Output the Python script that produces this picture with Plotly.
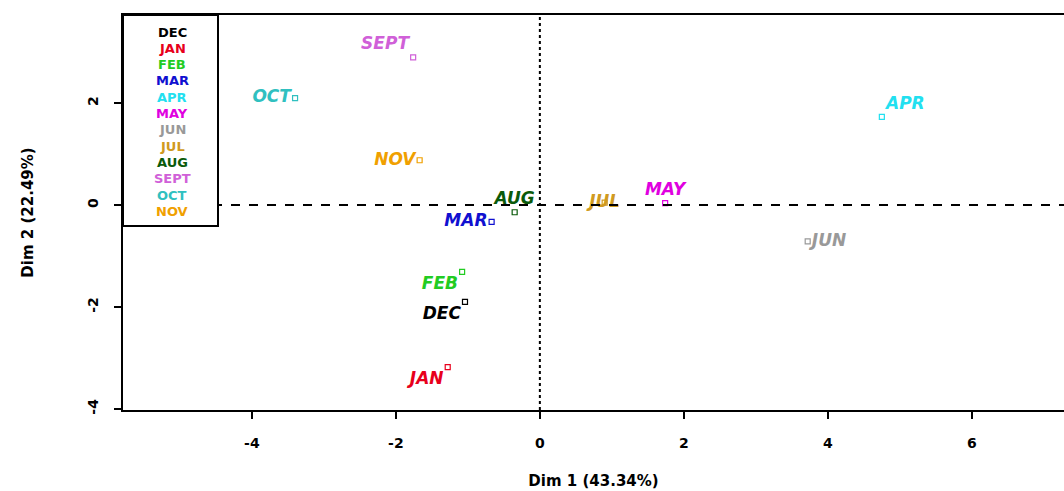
import plotly.graph_objects as go

months = ["DEC", "JAN", "FEB", "MAR", "APR", "MAY", "JUN", "JUL", "AUG", "SEPT", "OCT", "NOV"]
dim1 = [-1.04, -1.28, -1.08, -0.67, 4.75, 1.74, 3.72, 0.90, -0.35, -1.76, -3.40, -1.67]
dim2 = [-1.90, -3.18, -1.31, -0.33, 1.73, 0.04, -0.71, 0.05, -0.14, 2.90, 2.10, 0.88]
colors = ["#000000", "#E8001C", "#22CC22", "#1010D0", "#22E0F0", "#E000E0",
          "#999999", "#D09A20", "#0A5A0A", "#D060D8", "#30C0C0", "#F0A000"]
label_pos = ["bottom left", "bottom left", "bottom left", "middle left", "top right", "top center",
             "middle right", "middle center", "top center", "top left", "middle left", "middle left"]
xticks = [-4, -2, 0, 2, 4, 6]
yticks = [-4, -2, 0, 2]
x_title = "Dim 1 (43.34%)"
y_title = "Dim 2 (22.49%)"

FONT = "DejaVu Sans, Liberation Sans, Arial, sans-serif"

fig = go.Figure()
fig.add_trace(go.Scatter(
    x=dim1, y=dim2, mode="markers+text", text=months, textposition=label_pos,
    marker=dict(symbol="square-open", size=5, color=colors, line=dict(width=1.2, color=colors)),
    textfont=dict(family=FONT, size=17, color=colors, style="italic", weight="bold"),
    hoverinfo="skip", showlegend=False, cliponaxis=False,
))

# reference lines at zero
fig.add_hline(y=0, line=dict(color="black", width=2, dash="dash"))
fig.add_vline(x=0, line=dict(color="black", width=2, dash="dot"))

W, H = 1064, 491
ml, mt, mb, mr = 123, 15, 81, 0
pw = W - ml - mr
ph = H - mt - mb

# legend box
box_right_px = 218
box_bottom_px = 226
fig.add_shape(type="rect", xref="paper", yref="paper",
              x0=0, x1=(box_right_px - ml) / pw, y0=1 - (box_bottom_px - mt) / ph, y1=1,
              line=dict(color="black", width=2), fillcolor="white", layer="above")
for i, (m, c) in enumerate(zip(months, colors)):
    py = 32 + 16.3 * i
    fig.add_annotation(xref="paper", yref="paper", x=(172 - ml) / pw, y=1 - (py - mt) / ph,
                       text=m, showarrow=False, xanchor="center", yanchor="middle",
                       font=dict(family=FONT, size=13, color=c, weight="bold"))

fig.update_layout(
    width=W, height=H, margin=dict(l=ml, r=mr, t=mt, b=mb),
    plot_bgcolor="white", paper_bgcolor="white",
    font=dict(family=FONT, color="black"),
)
fig.update_xaxes(range=[-5.79, 7.28], tickvals=xticks, ticktext=[str(v) for v in xticks],
                 showgrid=False, zeroline=False, showline=True, mirror=True, linecolor="black",
                 linewidth=2, ticks="outside", ticklen=7, tickwidth=2, tickcolor="black",
                 tickfont=dict(size=14, weight="bold"), ticklabelstandoff=12,
                 title=dict(text=x_title, font=dict(size=15, weight="bold"), standoff=26))
fig.update_yaxes(range=[-4.02, 3.73], tickvals=yticks, ticktext=[str(v) for v in yticks],
                 showgrid=False, zeroline=False, showline=True, mirror=False, linecolor="black",
                 linewidth=2, ticks="outside", ticklen=7, tickwidth=2, tickcolor="black",
                 tickangle=-90, tickfont=dict(size=14, weight="bold"), ticklabelstandoff=10,
                 title=dict(text=y_title, font=dict(size=15, weight="bold"), standoff=48))

fig.write_html("out.html")
